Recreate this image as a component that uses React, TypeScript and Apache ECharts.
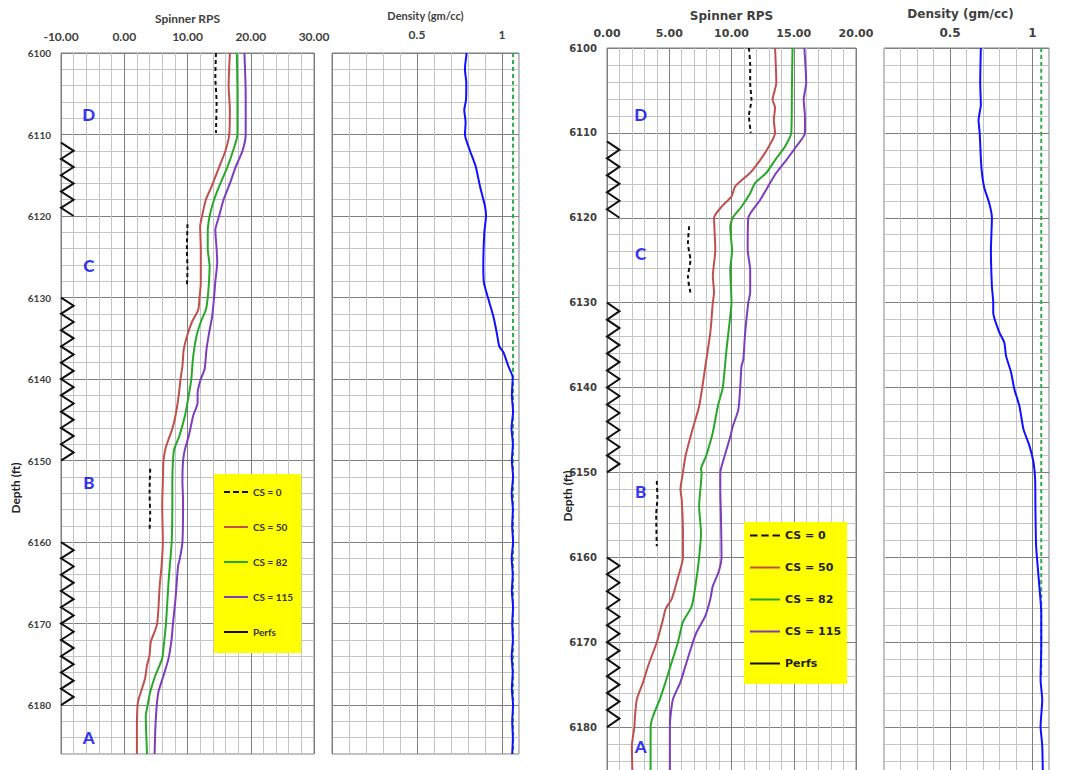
import React, { useEffect, useRef } from 'react';
import * as echarts from 'echarts';

// ---------- DATA (value, depth) ----------
const LEGEND_NAMES = ['CS = 0', 'CS = 50', 'CS = 82', 'CS = 115', 'Perfs'];
const PERF_INTERVALS = [[6111, 6120], [6130, 6150], [6160, 6180]];

// Left well, spinner RPS
const L_CS0_A = [[14.5, 6100], [14.4, 6103], [14.6, 6106], [14.5, 6109.8]];
const L_CS0_B = [[10.0, 6121], [9.9, 6124], [10.0, 6126.5], [9.9, 6128.6]];
const L_CS0_C = [[4.1, 6151], [4.0, 6154], [4.1, 6156.5], [4.0, 6158.6]];
const L_CS50 = [[16.7, 6100], [16.5, 6104], [16.7, 6107], [16.6, 6110], [16.0, 6112], [15.0, 6114], [13.8, 6116.4], [12.9, 6118], [12.3, 6120], [12.0, 6121.3], [12.1, 6124], [12.1, 6128.2], [11.9, 6130], [11.7, 6131.5], [10.7, 6133], [9.9, 6134.8], [9.4, 6136.4], [9.2, 6138.4], [8.9, 6140], [8.6, 6142.1], [8.1, 6144.5], [7.6, 6146.1], [7.0, 6147.4], [6.5, 6148.6], [6.2, 6150], [6.1, 6152.6], [6.0, 6155.5], [6.1, 6160], [5.9, 6162.9], [5.6, 6165.4], [5.4, 6168.2], [5.2, 6170], [4.8, 6171], [4.2, 6172.2], [4.0, 6173.9], [3.6, 6175.1], [3.3, 6176.7], [2.8, 6178], [2.3, 6179.2], [2.1, 6180], [2.0, 6183.2], [2.0, 6186]];
const L_CS82 = [[17.8, 6100], [17.9, 6105], [17.9, 6110], [17.2, 6112], [16.3, 6114], [15.2, 6116], [14.2, 6118], [13.5, 6120], [13.2, 6122], [13.2, 6124], [13.5, 6126.2], [13.4, 6128], [13.2, 6130], [12.9, 6131.5], [12.1, 6133], [11.4, 6134.8], [10.9, 6137.2], [10.6, 6140], [10.2, 6142], [9.6, 6144.5], [8.7, 6147], [7.9, 6148.6], [7.7, 6150], [7.6, 6152.6], [7.6, 6155], [7.5, 6160], [7.0, 6164.9], [6.6, 6170], [6.2, 6173], [6.0, 6174.3], [4.9, 6176.4], [4.1, 6178.4], [3.6, 6180.4], [3.4, 6181.3], [3.6, 6186]];
const L_CS115 = [[19.0, 6100], [19.2, 6105], [19.2, 6110], [18.7, 6112], [17.6, 6114], [16.7, 6116], [15.7, 6118], [15.0, 6120], [14.4, 6121.7], [14.6, 6124], [14.7, 6125.7], [14.4, 6128], [14.2, 6130], [13.9, 6132.3], [13.4, 6134.4], [13.0, 6136.4], [12.7, 6138.8], [12.1, 6140], [11.6, 6141.7], [11.6, 6142.9], [10.9, 6144.5], [10.2, 6147], [9.6, 6148.6], [9.3, 6150], [9.2, 6152.6], [9.3, 6155], [9.2, 6160], [8.8, 6162], [8.5, 6163], [8.1, 6167], [7.7, 6170], [7.5, 6171.8], [7.0, 6174.3], [6.2, 6176.4], [5.4, 6178.4], [5.1, 6180.4], [4.9, 6183.2], [4.8, 6186]];

// Left well, density
const L_DENSITY = [[0.792, 6100], [0.782, 6102], [0.79, 6103.7], [0.788, 6105.8], [0.778, 6107], [0.786, 6108.5], [0.782, 6110], [0.81, 6111.9], [0.845, 6113.9], [0.871, 6116.4], [0.9, 6118.8], [0.906, 6120], [0.896, 6122], [0.89, 6126.2], [0.894, 6128.2], [0.92, 6130.2], [0.949, 6132.3], [0.969, 6134.3], [0.984, 6136], [1.008, 6136.7], [1.037, 6138.4], [1.063, 6139.8], [1.058, 6142], [1.065, 6144], [1.056, 6146], [1.064, 6148], [1.058, 6150], [1.065, 6152], [1.057, 6154], [1.064, 6156], [1.06, 6158], [1.065, 6160], [1.057, 6162], [1.063, 6164], [1.058, 6166], [1.065, 6168], [1.06, 6170], [1.064, 6172], [1.057, 6174], [1.063, 6176], [1.058, 6178], [1.065, 6180], [1.06, 6182], [1.064, 6184], [1.06, 6186]];
const L_WATER = [[1.065, 6100], [1.065, 6186]];

// Right well, spinner RPS
const R_CS0_A = [[11.4, 6100], [11.5, 6102], [11.5, 6104.1], [11.6, 6106.1], [11.4, 6108], [11.55, 6110]];
const R_CS0_B = [[6.6, 6121], [6.5, 6123], [6.7, 6125], [6.5, 6127], [6.7, 6128.8]];
const R_CS0_C = [[4.0, 6151], [4.05, 6153], [3.95, 6155], [4.0, 6158.7]];
const R_CS50 = [[13.5, 6100], [13.6, 6104.1], [13.3, 6106.1], [13.5, 6107], [13.4, 6108.5], [13.5, 6110], [13.0, 6111.6], [12.3, 6113.2], [11.5, 6114.7], [10.3, 6116.3], [10.0, 6117.5], [9.2, 6118.7], [8.6, 6120], [8.7, 6123.8], [8.5, 6126.9], [8.6, 6128.8], [8.5, 6130], [8.3, 6133.5], [7.9, 6137.5], [7.65, 6140], [7.4, 6142.2], [6.8, 6145.3], [6.3, 6148.1], [6.1, 6150], [5.9, 6152], [6.0, 6153.2], [6.1, 6157.1], [6.1, 6160], [5.6, 6162.9], [5.2, 6164.9], [4.7, 6166.1], [4.5, 6167.3], [4.0, 6170], [3.3, 6172.8], [2.9, 6174.7], [2.4, 6176.7], [2.25, 6178.7], [2.2, 6180], [2.0, 6182.2], [2.05, 6186]];
const R_CS82 = [[14.9, 6100], [14.85, 6105], [14.8, 6110], [14.3, 6111.6], [13.5, 6113.2], [12.8, 6114.7], [11.9, 6115.9], [11.5, 6117.1], [10.8, 6118.7], [10.1, 6120], [9.9, 6121], [10.0, 6123], [10.05, 6123.8], [9.9, 6126.1], [10.0, 6130], [9.9, 6131.6], [9.6, 6135.5], [9.3, 6140], [8.9, 6142.2], [8.5, 6145.3], [7.95, 6148.1], [7.55, 6149.6], [7.6, 6150], [7.4, 6154], [7.55, 6157.1], [7.4, 6160], [7.15, 6162.9], [6.8, 6165.8], [6.1, 6167.6], [5.7, 6170], [5.1, 6172.8], [4.7, 6174.7], [4.25, 6176.7], [3.7, 6178.7], [3.5, 6180], [3.5, 6186]];
const R_CS115 = [[15.85, 6100], [16.0, 6104.1], [15.8, 6106.1], [15.9, 6108.1], [15.9, 6110], [15.2, 6111.6], [14.4, 6113.2], [13.6, 6114.7], [13.1, 6115.9], [12.3, 6117.9], [11.35, 6120], [11.3, 6123.8], [11.5, 6126.1], [11.5, 6128.8], [11.35, 6130], [11.1, 6133.5], [10.95, 6136.7], [10.8, 6137.5], [10.7, 6140], [10.55, 6142.6], [10.1, 6144.6], [9.9, 6145.8], [9.6, 6147.3], [9.2, 6149.3], [9.1, 6150], [9.1, 6152], [9.15, 6155], [9.2, 6160], [8.95, 6161.8], [8.5, 6163.4], [8.3, 6164.9], [7.9, 6166.9], [7.2, 6168.8], [6.9, 6170], [6.3, 6172.8], [5.9, 6174.7], [5.3, 6176.7], [5.1, 6178.7], [5.05, 6180], [5.05, 6186]];

// Right well, density
const R_DENSITY = [[0.687, 6100], [0.683, 6104.1], [0.687, 6106.7], [0.673, 6108.5], [0.68, 6110], [0.69, 6114], [0.707, 6116.4], [0.738, 6118.3], [0.754, 6120], [0.748, 6123.8], [0.754, 6128.1], [0.762, 6130], [0.762, 6131.2], [0.799, 6133.5], [0.829, 6134.7], [0.84, 6136.3], [0.87, 6138.2], [0.89, 6140.2], [0.921, 6142.2], [0.945, 6144.9], [0.982, 6146.9], [1.006, 6148.8], [1.016, 6150.8], [1.018, 6154.7], [1.022, 6158.7], [1.038, 6162.6], [1.053, 6166.5], [1.053, 6170.5], [1.049, 6174.4], [1.059, 6176.8], [1.049, 6179.9], [1.059, 6182.2], [1.063, 6186]];
const R_WATER = [[1.053, 6100], [1.053, 6174]];

// Zone letters (value, depth, label)
const L_ZONES = [[-5.6, 6107.6, 'D'], [-5.6, 6126.1, 'C'], [-5.6, 6152.7, 'B'], [-5.6, 6184.0, 'A']];
const R_ZONES = [[2.7, 6107.8, 'D'], [2.7, 6124.2, 'C'], [2.7, 6152.2, 'B'], [2.7, 6182.3, 'A']];

// ---------- STYLE ----------
const DARK = '#7f7f7f';
const LIGHT = '#c4c4c4';
const C0 = '#111111';
const C50 = '#c0504d';
const C82 = '#28a828';
const C115 = '#7e3dbd';
const BLUE = '#1010ff';
const WGREEN = '#2eaa4a';
const LFONT = 'Lato';
const RFONT = 'DejaVu Sans';
const SERIES_COLORS: Record<string, string> = { 'CS = 0': C0, 'CS = 50': C50, 'CS = 82': C82, 'CS = 115': C115, Perfs: '#111' };

const near = (v: number, t: number) => Math.abs(v - t) < 1e-6;

function legendItems(w: number) {
  const solid = `path://M0 0H${w}V2H0Z`;
  const d = w / 4;
  const dashed = `path://M0 0H${d}V2H0Z M${1.5 * d} 0H${2.5 * d}V2H${1.5 * d}Z M${3 * d} 0H${w}V2H${3 * d}Z`;
  return LEGEND_NAMES.map((n) => ({
    name: n,
    icon: n === 'CS = 0' ? dashed : solid,
    itemStyle: { color: SERIES_COLORS[n] },
  }));
}

function perfSeries(name: string, xi: number, lo: number, hi: number) {
  return {
    type: 'custom',
    name,
    xAxisIndex: xi,
    yAxisIndex: xi,
    coordinateSystem: 'cartesian2d',
    itemStyle: { color: '#111' },
    encode: { y: [0, 1] },
    data: PERF_INTERVALS,
    renderItem: (params: any, api: any) => {
      const top = api.value(0);
      const bot = api.value(1);
      const pts: number[][] = [];
      let k = 0;
      for (let d = top; d <= bot + 1e-6; d += 1, k++) {
        pts.push(api.coord([k % 2 === 0 ? lo : hi, d]));
      }
      return {
        type: 'polyline',
        shape: { points: pts },
        style: { stroke: '#111', lineWidth: 2, fill: 'none' },
      };
    },
    z: 5,
  };
}

function lineSeries(name: string, idx: number, data: number[][], color: string, dashed = false, width = 2) {
  return {
    type: 'line',
    name,
    xAxisIndex: idx,
    yAxisIndex: idx,
    data,
    symbol: 'none',
    showSymbol: false,
    smooth: 0.2,
    lineStyle: { color, width, type: dashed ? [4, 3] : 'solid' },
    itemStyle: { color },
    silent: true,
    z: 4,
  };
}

function zoneSeries(idx: number, data: any[]) {
  return {
    type: 'scatter',
    xAxisIndex: idx,
    yAxisIndex: idx,
    data,
    symbolSize: 1,
    itemStyle: { color: 'rgba(0,0,0,0)' },
    silent: true,
    label: {
      show: true,
      position: 'inside',
      formatter: (p: any) => p.value[2],
      color: '#0000ee',
      fontFamily: LFONT,
      fontWeight: 900,
      fontSize: 17,
    },
    z: 6,
  };
}

function yAxis(grid: number, showLabels: boolean, font: string, size: number) {
  return {
    gridIndex: grid,
    type: 'value',
    inverse: true,
    min: 6100,
    max: 6186,
    interval: 2,
    axisLine: { show: false },
    axisTick: { show: false },
    axisLabel: {
      show: showLabels,
      formatter: (v: number) => (Math.round(v) % 10 === 0 ? String(Math.round(v)) : ''),
      fontFamily: font,
      fontWeight: 'bold',
      fontSize: size,
      color: '#404040',
      margin: 10,
      showMaxLabel: false,
    },
    splitLine: { show: true, lineStyle: { color: [DARK, LIGHT, LIGHT, LIGHT, LIGHT], width: 1 } },
  };
}

export default function App() {
  const ref = useRef<HTMLDivElement>(null);
  useEffect(() => {
    if (!ref.current) return;
    const chart = echarts.init(ref.current, null, { renderer: 'svg' });
    const gridBase = { show: true, borderColor: DARK, borderWidth: 1, outerBoundsMode: 'none', containLabel: false };
    const option: any = {
      animation: false,
      backgroundColor: '#ffffff',
      grid: [
        { ...gridBase, left: 61, top: 53, width: 253, height: 701 },
        { ...gridBase, left: 332, top: 53, width: 187, height: 701 },
        { ...gridBase, left: 607, top: 48, width: 249, height: 730 },
        { ...gridBase, left: 884, top: 48, width: 165, height: 730 },
      ],
      xAxis: [
        {
          gridIndex: 0, type: 'value', position: 'top', min: -10, max: 30, interval: 2,
          name: 'Spinner RPS', nameLocation: 'middle', nameGap: 29,
          nameTextStyle: { fontFamily: LFONT, fontWeight: 'bold', fontSize: 12, color: '#404040' },
          axisLine: { show: false }, axisTick: { show: false },
          axisLabel: { formatter: (v: number) => (Math.round(v) % 10 === 0 ? v.toFixed(2) : ''), fontFamily: LFONT, fontWeight: 'bold', fontSize: 12, color: '#404040', margin: 11 },
          splitLine: { show: true, lineStyle: { color: [DARK, LIGHT, LIGHT, LIGHT, LIGHT], width: 1 } },
        },
        {
          gridIndex: 1, type: 'value', position: 'top', min: 0, max: 1.1, interval: 0.1,
          name: 'Density (gm/cc)', nameLocation: 'middle', nameGap: 32,
          nameTextStyle: { fontFamily: LFONT, fontWeight: 'bold', fontSize: 11, color: '#404040' },
          axisLine: { show: false }, axisTick: { show: false },
          axisLabel: { formatter: (v: number) => (near(v, 0.5) ? '0.5' : near(v, 1) ? '1' : ''), fontFamily: LFONT, fontWeight: 'bold', fontSize: 12, color: '#404040', margin: 13 },
          splitLine: { show: true, lineStyle: { color: [DARK, LIGHT, LIGHT, LIGHT, LIGHT], width: 1 } },
        },
        {
          gridIndex: 2, type: 'value', position: 'top', min: 0, max: 20, interval: 1,
          name: 'Spinner RPS', nameLocation: 'middle', nameGap: 26,
          nameTextStyle: { fontFamily: RFONT, fontWeight: 'bold', fontSize: 12, color: '#404040' },
          axisLine: { show: false }, axisTick: { show: false },
          axisLabel: { formatter: (v: number) => (Math.round(v) % 5 === 0 ? v.toFixed(2) : ''), fontFamily: RFONT, fontWeight: 'bold', fontSize: 11, color: '#404040', margin: 9 },
          splitLine: { show: true, lineStyle: { color: [DARK, LIGHT, LIGHT, LIGHT, LIGHT], width: 1 } },
        },
        {
          gridIndex: 3, type: 'value', position: 'top', min: 0.1, max: 1.1, interval: 0.1,
          name: 'Density (gm/cc)', nameLocation: 'middle', nameGap: 28,
          nameTextStyle: { fontFamily: RFONT, fontWeight: 'bold', fontSize: 12, color: '#404040', padding: [0, 12, 0, 0] },
          axisLine: { show: false }, axisTick: { show: false },
          axisLabel: { formatter: (v: number) => (near(v, 0.5) ? '0.5' : near(v, 1) ? '1' : ''), fontFamily: RFONT, fontWeight: 'bold', fontSize: 12, color: '#404040', margin: 9 },
          splitLine: { show: true, lineStyle: { color: [LIGHT, LIGHT, LIGHT, LIGHT, DARK], width: 1 } },
        },
      ],
      yAxis: [
        yAxis(0, true, LFONT, 10),
        yAxis(1, false, LFONT, 10),
        yAxis(2, true, RFONT, 10),
        yAxis(3, false, RFONT, 10),
      ],
      legend: [
        {
          data: legendItems(24),
          left: 214, top: 474, orient: 'vertical', backgroundColor: '#ffff00',
          padding: [13, 8, 16, 10], itemGap: 25, itemWidth: 24, itemHeight: 14, selectedMode: false,
          textStyle: { fontFamily: LFONT, fontWeight: 'bold', fontSize: 10, color: '#333' },
        },
        {
          data: legendItems(30),
          left: 744, top: 522, orient: 'vertical', backgroundColor: '#ffff00',
          padding: [8, 6, 15, 6], itemGap: 21, itemWidth: 30, itemHeight: 14, selectedMode: false,
          textStyle: { fontFamily: RFONT, fontWeight: 'bold', fontSize: 11, color: '#222' },
        },
      ],
      graphic: [
        { type: 'text', x: 15, y: 488, rotation: Math.PI / 2, style: { text: 'Depth (ft)', font: `bold 12px ${LFONT}`, fill: '#222', textAlign: 'center', textVerticalAlign: 'middle' } },
        { type: 'text', x: 567, y: 496, rotation: Math.PI / 2, style: { text: 'Depth (ft)', font: `bold 12px ${LFONT}`, fill: '#222', textAlign: 'center', textVerticalAlign: 'middle' } },
      ],
      series: [
        lineSeries('CS = 0', 0, L_CS0_A, C0, true),
        lineSeries('CS = 0', 0, L_CS0_B, C0, true),
        lineSeries('CS = 0', 0, L_CS0_C, C0, true),
        lineSeries('CS = 50', 0, L_CS50, C50),
        lineSeries('CS = 82', 0, L_CS82, C82),
        lineSeries('CS = 115', 0, L_CS115, C115),
        perfSeries('Perfs', 0, -10, -8),
        zoneSeries(0, L_ZONES),
        lineSeries('Water', 1, L_WATER, WGREEN, true),
        lineSeries('Density', 1, L_DENSITY, BLUE),
        lineSeries('CS = 0', 2, R_CS0_A, C0, true),
        lineSeries('CS = 0', 2, R_CS0_B, C0, true),
        lineSeries('CS = 0', 2, R_CS0_C, C0, true),
        lineSeries('CS = 50', 2, R_CS50, C50),
        lineSeries('CS = 82', 2, R_CS82, C82),
        lineSeries('CS = 115', 2, R_CS115, C115),
        perfSeries('Perfs', 2, 0, 1),
        zoneSeries(2, R_ZONES),
        lineSeries('Water', 3, R_WATER, WGREEN, true),
        lineSeries('Density', 3, R_DENSITY, BLUE),
      ],
    };
    chart.setOption(option);
    return () => chart.dispose();
  }, []);
  return (
    <div
      ref={ref}
      style={{ position: 'fixed', left: 0, top: 0, width: 1074, height: 770, background: '#fff' }}
    />
  );
}
